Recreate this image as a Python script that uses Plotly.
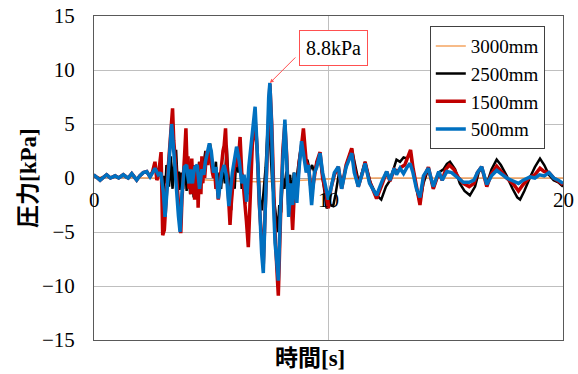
import plotly.graph_objects as go

# ---------------- data ----------------
S3000 = [(0, 0.1), (2.5, 0.0), (3.0, -0.1), (4.0, -0.1), (5.0, -0.2), (6.0, -0.3),
         (7.0, -0.35), (8.0, -0.3), (9.0, -0.2), (10.0, -0.1), (12.0, 0.0),
         (14.0, 0.0), (16.0, 0.0), (18.0, 0.0), (20.0, 0.0)]

S2500 = [(0, 0.1), (0.04, 0.2), (0.26, -0.1), (0.4, 0.1), (0.54, 0.3), (0.7, 0.0), (0.9, 0.2),
         (1.05, 0.0), (1.25, 0.3), (1.38, 0.1), (1.46, 0.0), (1.61, 0.4), (1.72, 0.1),
         (1.82, -0.1), (1.95, 0.2), (2.1, 0.5), (2.25, 0.5), (2.39, 0.2), (2.5, 0.6),
         (2.6, 0.8), (2.7, 0.2), (2.75, 0.5), (2.8, 1.0), (2.85, 1.5), (2.9, -0.5),
         (2.95, -1.5), (3.0, 0.2), (3.05, -0.5), (3.09, 1.2), (3.12, 1.0), (3.16, -0.3),
         (3.2, -0.8), (3.24, 0.8), (3.28, 2.0), (3.31, 0.2), (3.35, -1.0), (3.39, 0.5),
         (3.42, 1.5), (3.46, 0.3), (3.5, 2.6), (3.54, 0.8), (3.58, -0.5), (3.62, 0.6),
         (3.65, -1.1), (3.69, -0.2), (3.72, 0.5), (3.76, -0.6), (3.8, -1.0), (3.84, 0.4),
         (3.88, 1.5), (3.92, 0.0), (3.95, -1.2), (3.99, 0.2), (4.02, 1.0), (4.06, -0.3),
         (4.1, -1.5), (4.14, 0.3), (4.18, 0.8), (4.22, -0.8), (4.25, -1.8), (4.29, -0.2),
         (4.32, 0.5), (4.36, -0.4), (4.4, -1.0), (4.44, 0.3), (4.48, 1.5), (4.52, 0.4),
         (4.55, -0.5), (4.6, 0.2), (4.65, 1.0), (4.7, 1.8), (4.75, 2.5), (4.8, 1.6),
         (4.85, 2.0), (4.9, 2.6), (4.95, 3.2), (5.0, 2.2), (5.05, 1.5), (5.08, 0.6),
         (5.12, 0.0), (5.16, 0.9), (5.2, 1.5), (5.24, 0.0), (5.28, -1.5), (5.32, -0.3),
         (5.35, 0.5), (5.39, -0.3), (5.42, -1.0), (5.46, 0.2), (5.5, 1.0), (5.54, 0.3),
         (5.58, -0.5), (5.62, 1.5), (5.66, 3.0), (5.7, 1.2), (5.74, 0.0), (5.8, -1.8),
         (5.85, -3.0), (5.89, -1.0), (5.92, 0.5), (5.96, -0.2), (6.0, -1.0), (6.04, 0.8),
         (6.08, 2.5), (6.12, 1.5), (6.15, 0.5), (6.19, 1.2), (6.22, 2.0), (6.26, 0.4),
         (6.3, -1.0), (6.34, 0.0), (6.38, -0.2), (6.42, -1.5), (6.45, -2.4), (6.49, -1.2),
         (6.52, -0.5), (6.56, -0.8), (6.6, -1.5), (6.64, 0.0), (6.68, 1.5), (6.73, 2.5),
         (6.78, 3.5), (6.83, 4.8), (6.88, 5.5), (6.93, 3.5), (6.98, 2.0), (7.03, 0.0),
         (7.08, -2.0), (7.16, -3.0), (7.24, -1.0), (7.32, 1.0), (7.4, 4.5), (7.46, 5.2),
         (7.52, 3.0), (7.6, -0.5), (7.68, -2.0), (7.76, -3.5), (7.84, -5.0), (7.9, -2.5),
         (7.98, -3.2), (8.05, 0.0), (8.12, -1.0), (8.2, 0.6), (8.28, -0.5), (8.36, 0.3),
         (8.45, -1.5), (8.52, 0.5), (8.6, -0.8), (8.7, 1.0), (8.8, 2.5), (8.9, 3.0),
         (9.0, 1.5), (9.1, 1.7), (9.2, 0.7), (9.3, 1.2), (9.4, 0.5), (9.5, 1.5),
         (9.62, 2.0), (9.72, 0.5), (9.82, -1.0), (9.92, -2.8), (10.05, -2.5),
         (10.2, -2.6), (10.3, -1.5), (10.45, 0.5), (10.6, -0.5), (10.8, 1.5),
         (10.99, 2.75), (11.1, 1.5), (11.3, -0.5), (11.56, 1.5), (11.8, -0.5),
         (12.05, -1.6), (12.25, -2.0), (12.45, -0.8), (12.6, -0.3), (12.8, 1.0),
         (12.9, 1.7), (13.05, 1.5), (13.2, 1.9), (13.35, 1.8), (13.48, 2.3), (13.6, 1.0),
         (13.75, -1.0), (13.9, -2.3), (14.05, -0.5), (14.26, 0.9), (14.47, -1.0),
         (14.7, 0.5), (14.9, 0.8), (15.05, 1.3), (15.18, 1.5), (15.4, 0.8), (15.6, -0.5),
         (15.8, -1.2), (16.03, -1.6), (16.25, -0.8), (16.4, 0.5), (16.53, 1.0),
         (16.75, -0.6), (16.95, 0.8), (17.17, 1.7), (17.35, 1.2), (17.6, 0.2),
         (17.85, -1.0), (18.05, -1.8), (18.17, -2.0), (18.35, -1.2), (18.6, 0.1),
         (18.8, 1.0), (19.02, 1.8), (19.2, 1.2), (19.4, 0.3), (19.6, -0.2), (19.8, -0.4),
         (20.0, -0.8)]

S1500 = [(0, 0.1), (0.04, 0.2), (0.26, -0.2), (0.4, 0.1), (0.54, 0.3), (0.7, 0.0), (0.9, 0.2),
         (1.05, 0.0), (1.25, 0.3), (1.38, 0.1), (1.46, 0.0), (1.61, 0.4), (1.72, 0.1),
         (1.82, -0.2), (1.95, 0.2), (2.1, 0.5), (2.25, 0.6), (2.39, 0.1), (2.5, 0.6),
         (2.6, 1.5), (2.68, -0.2), (2.75, 0.3), (2.86, 2.4), (2.93, -5.3), (3.0, -4.8),
         (3.05, -2.0), (3.1, -1.0), (3.15, 0.5), (3.2, 2.0), (3.3, 4.5), (3.35, 6.45),
         (3.4, 3.5), (3.45, 2.0), (3.5, 0.5), (3.55, -1.0), (3.6, -2.5), (3.65, -4.5),
         (3.7, -5.1), (3.75, -2.0), (3.8, 0.5), (3.86, 2.0), (3.92, 4.6), (3.97, 1.0),
         (4.01, 2.0), (4.05, -1.0), (4.09, 0.8), (4.13, -1.5), (4.17, 1.8), (4.21, -0.5),
         (4.25, 1.2), (4.29, -2.0), (4.33, 0.8), (4.37, -1.2), (4.41, 0.5), (4.44, -2.75),
         (4.48, 0.0), (4.52, 1.5), (4.56, -1.5), (4.6, 2.0), (4.64, -0.5), (4.68, 1.0),
         (4.72, 0.0), (4.76, 2.0), (4.8, 2.5), (4.85, 1.2), (4.9, 3.0), (4.95, 2.0),
         (5.0, 1.5), (5.05, 0.5), (5.1, 0.0), (5.15, 0.6), (5.2, -1.0), (5.25, -0.5),
         (5.3, -2.0), (5.35, -0.8), (5.4, 0.5), (5.45, 1.0), (5.5, 2.5), (5.55, 3.0),
         (5.61, 4.6), (5.68, 0.5), (5.74, -2.5), (5.8, -4.35), (5.85, -2.5), (5.9, -1.0),
         (5.95, 0.3), (6.0, 1.5), (6.05, 1.0), (6.1, 2.5), (6.17, 2.0), (6.23, 3.8),
         (6.3, 0.5), (6.35, 0.0), (6.4, -1.5), (6.45, -2.5), (6.5, -4.0), (6.58, -6.4),
         (6.65, -2.0), (6.75, 3.0), (6.87, 5.4), (6.95, 3.0), (7.05, -2.5), (7.15, -6.5),
         (7.22, -8.0), (7.3, -3.0), (7.4, 4.0), (7.5, 8.7), (7.58, 5.0), (7.65, -1.0),
         (7.72, -5.0), (7.8, -8.5), (7.86, -10.9), (7.95, -4.0), (8.05, 2.5), (8.14, 5.0),
         (8.22, 2.0), (8.3, -2.5), (8.38, -1.0), (8.47, -4.8), (8.55, -1.0), (8.65, -1.5),
         (8.75, 1.5), (8.85, 3.0), (8.93, 4.6), (9.05, 1.5), (9.15, 1.0), (9.28, -1.5),
         (9.4, 0.0), (9.5, 1.5), (9.64, 2.4), (9.75, 0.0), (9.85, -1.0), (9.99, -2.8),
         (10.1, -1.0), (10.25, 0.3), (10.42, 1.05), (10.56, -1.0), (10.75, 1.2),
         (10.99, 2.75), (11.1, 1.0), (11.27, -0.8), (11.45, 0.5), (11.56, 1.5),
         (11.75, -0.3), (12.05, -1.9), (12.3, -0.5), (12.48, 0.6), (12.62, -0.3),
         (12.8, 0.8), (12.95, 0.6), (13.1, 1.0), (13.25, 1.2), (13.4, 2.0), (13.5, 2.6),
         (13.6, 1.0), (13.75, -1.0), (13.9, -2.5), (14.05, 0.0), (14.26, 1.0),
         (14.47, -1.0), (14.7, 0.5), (14.85, -0.2), (15.0, 0.8), (15.15, 1.2),
         (15.35, 0.8), (15.55, 0.0), (15.75, -0.5), (16.0, -0.8), (16.2, -0.5),
         (16.35, 0.5), (16.53, 1.05), (16.75, -0.8), (16.95, 0.4), (17.17, 1.1),
         (17.4, 0.5), (17.6, 0.0), (17.9, -0.6), (18.1, -1.2), (18.3, -0.6), (18.6, 0.1),
         (18.8, 0.3), (19.02, 0.9), (19.2, 0.6), (19.4, 0.5), (19.6, 0.0), (19.8, -0.3),
         (20.0, -0.6)]

S500 = [(0, 0.1), (0.04, 0.2), (0.26, -0.2), (0.4, 0.1), (0.54, 0.3), (0.7, 0.0), (0.9, 0.2),
        (1.05, 0.0), (1.25, 0.3), (1.38, 0.1), (1.46, 0.0), (1.61, 0.4), (1.72, 0.1),
        (1.82, -0.2), (1.95, 0.2), (2.1, 0.5), (2.25, 0.6), (2.39, 0.1), (2.5, 0.5),
        (2.6, 0.9), (2.74, 0.3), (2.85, 0.5), (2.96, -1.4), (3.03, -3.6), (3.12, -1.0),
        (3.2, 2.0), (3.31, 5.0), (3.4, 2.5), (3.5, -1.0), (3.6, -3.5), (3.67, -5.0),
        (3.75, -1.5), (3.85, 1.0), (3.95, 1.2), (4.0, 0.2), (4.05, -0.5), (4.12, 0.8),
        (4.2, -0.5), (4.25, 0.4), (4.3, 1.0), (4.4, 1.2), (4.45, 0.0), (4.5, -1.0),
        (4.6, 0.8), (4.68, 0.3), (4.75, 1.5), (4.92, 3.2), (5.0, 2.5), (5.1, 0.5),
        (5.2, 1.0), (5.3, -1.9), (5.45, 0.5), (5.55, 1.2), (5.65, 0.2), (5.75, -2.6),
        (5.9, 0.5), (6.08, 2.9), (6.2, 1.5), (6.3, -0.5), (6.4, 0.3), (6.51, -2.2),
        (6.6, 1.0), (6.75, 4.5), (6.87, 6.6), (6.95, 3.0), (7.05, -3.0), (7.15, -7.0),
        (7.22, -8.8), (7.3, -3.0), (7.38, 3.5), (7.45, 7.5), (7.5, 8.8), (7.57, 5.0),
        (7.65, -2.0), (7.72, -6.0), (7.8, -7.9), (7.86, -9.5), (7.95, -3.0), (8.05, 2.0),
        (8.14, 5.4), (8.22, 1.5), (8.3, -3.6), (8.4, -0.5), (8.47, -2.5), (8.55, 0.5),
        (8.65, -2.3), (8.75, 1.0), (8.85, 3.4), (8.95, 2.0), (9.05, 0.5), (9.15, 1.2),
        (9.28, -2.5), (9.4, 0.5), (9.5, 1.0), (9.64, 2.3), (9.75, 0.5), (9.85, -0.5),
        (9.99, -2.0), (10.1, -1.0), (10.25, 0.5), (10.42, 1.05), (10.56, -1.0),
        (10.75, 1.0), (10.99, 2.3), (11.1, 0.5), (11.27, -0.8), (11.45, 0.5),
        (11.56, 1.35), (11.75, -0.5), (12.05, -1.6), (12.3, -0.2), (12.48, 0.6),
        (12.62, -0.2), (12.8, 0.9), (12.9, 0.3), (13.05, 0.9), (13.2, 0.4), (13.35, 1.0),
        (13.48, 1.35), (13.6, 0.5), (13.75, -1.0), (13.9, -1.8), (14.05, 0.2),
        (14.26, 0.9), (14.47, -0.8), (14.7, 0.6), (14.85, -0.2), (15.05, 0.6),
        (15.25, 0.5), (15.5, 0.0), (15.75, -0.4), (16.0, -0.4), (16.2, -0.2),
        (16.35, 0.5), (16.53, 1.05), (16.75, -0.6), (16.95, 0.2), (17.17, 0.7),
        (17.4, 0.3), (17.6, 0.0), (17.9, -0.3), (18.1, -0.5), (18.3, -0.2), (18.6, 0.1),
        (18.8, 0.0), (19.0, 0.3), (19.2, 0.2), (19.4, 0.5), (19.6, 0.0), (19.8, -0.2),
        (20.0, -0.5)]

SERIES_NAMES = ["3000mm", "2500mm", "1500mm", "500mm"]
SERIES_DATA = [S3000, S2500, S1500, S500]
SERIES_COLORS = ["#F4A460", "#000000", "#C00000", "#0070C0"]
SERIES_WIDTHS = [1.5, 2.5, 3.5, 3.5]

Y_TICKS = [-15, -10, -5, 0, 5, 10, 15]
X_TICKS = [0, 10, 20]
X_TICK_TEXT = ["0", "10", "20"]
X_TITLE = "時間[s]"
Y_TITLE = "圧力[kPa]"

PEAK_T, PEAK_V, PEAK_LABEL = 7.5, 8.8, "8.8kPa"

FONT = "Liberation Serif, Times New Roman, Noto Sans CJK JP, serif"

fig = go.Figure()
for name, data, col, w in zip(SERIES_NAMES, SERIES_DATA, SERIES_COLORS, SERIES_WIDTHS):
    t, v = zip(*data)
    fig.add_trace(go.Scatter(x=list(t), y=list(v), mode="lines", name=name,
                             line=dict(color=col, width=w)))

fig.update_layout(
    width=578, height=374,
    margin=dict(l=94, r=15, t=16, b=34, autoexpand=False),
    paper_bgcolor="white", plot_bgcolor="white",
    font=dict(family=FONT, size=19, color="#000000"),
    showlegend=True,
    legend=dict(x=0.716, y=0.969, xanchor="left", yanchor="top",
                bgcolor="white", bordercolor="#404040", borderwidth=1,
                font=dict(family=FONT, size=19), itemwidth=30,
                tracegroupgap=0),
)
fig.update_xaxes(range=[0, 20], tickvals=X_TICKS, showticklabels=False, automargin=False,
                 showgrid=True, gridcolor="#BFBFBF", gridwidth=1,
                 showline=True, mirror=True, linecolor="#595959", linewidth=1,
                 zeroline=False, ticks="")
fig.update_yaxes(range=[-15, 15], tickvals=Y_TICKS, automargin=False,
                 showgrid=True, gridcolor="#BFBFBF", gridwidth=1,
                 showline=True, mirror=True, linecolor="#595959", linewidth=1,
                 zeroline=True, zerolinecolor="#A6A6A6", zerolinewidth=1,
                 ticks="", ticklabelstandoff=14,
                 tickfont=dict(family=FONT, size=21))

# axis titles
fig.add_annotation(x=(310 - 94) / 469 * 20, y=-(358 - 340) / 324, xref="x", yref="paper",
                   xanchor="center", yanchor="middle",
                   text="<b>" + X_TITLE + "</b>", showarrow=False,
                   font=dict(family=FONT, size=23))
fig.add_annotation(x=-(94 - 28) / 469, y=0.5, xref="paper", yref="paper",
                   xanchor="center", yanchor="middle",
                   text="<b>" + Y_TITLE + "</b>", textangle=-90, showarrow=False,
                   font=dict(family=FONT, size=23))

# x tick labels sit just under the y=0 line (axis crosses at zero)
for xv, xt in zip(X_TICKS, X_TICK_TEXT):
    fig.add_annotation(x=xv, y=0, xref="x", yref="y", text=xt, showarrow=False,
                       yanchor="top", yshift=-8, font=dict(family=FONT, size=21))

# peak callout
fig.add_annotation(x=PEAK_T, y=PEAK_V, xref="x", yref="y", text="",
                   showarrow=True, arrowhead=2, arrowsize=0.8, arrowwidth=1,
                   arrowcolor="#FF5050", ax=27, ay=-27)
fig.add_annotation(x=PEAK_T, y=PEAK_V, xref="x", yref="y", text=PEAK_LABEL,
                   showarrow=False, xshift=64, yshift=35,
                   bordercolor="#FF5050", borderwidth=1, borderpad=6, bgcolor="white",
                   font=dict(family=FONT, size=20))

fig.write_html("out.html")
